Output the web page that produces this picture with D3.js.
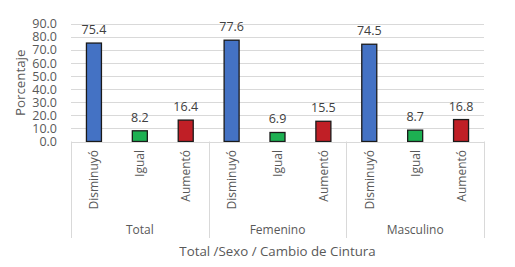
<!DOCTYPE html>
<html><head><meta charset="utf-8">
<script src="https://cdn.jsdelivr.net/npm/d3@7"></script>
<style>body{margin:0;background:#fff}svg{display:block}text{font-family:"Open Sans","Noto Sans",sans-serif}</style>
</head><body>
<script>
const groups = ["Total", "Femenino", "Masculino"];
const subcats = ["Disminuyó", "Igual", "Aumentó"];
const values = [
  [75.4, 8.2, 16.4],
  [77.6, 6.9, 15.5],
  [74.5, 8.7, 16.8]
];
const colors = ["#4472C4", "#1DB052", "#C01F26"];
const yTicks = [0, 10, 20, 30, 40, 50, 60, 70, 80, 90];

const W = 515, H = 267;
const mLeft = 71, mRight = 484, mTop = 24, mBottom = 141.5;
const svg = d3.select("body").append("svg").attr("width", W).attr("height", H);
const txt = "#595959", grid = "#D9D9D9";

const y = d3.scaleLinear().domain([0, 90]).range([mBottom, mTop]);
const xg = d3.scaleBand().domain(groups).range([mLeft, mRight]).padding(0);
const xs = d3.scaleBand().domain(subcats).range([0, xg.bandwidth()]).padding(0);
const barW = 15;

// gridlines
svg.append("g").selectAll("line").data(yTicks.filter(d => d > 0)).join("line")
  .attr("x1", mLeft).attr("x2", mRight)
  .attr("y1", d => Math.round(y(d)) + 0.5).attr("y2", d => Math.round(y(d)) + 0.5)
  .attr("stroke", grid).attr("stroke-width", 1);

// y tick labels
svg.append("g").selectAll("text").data(yTicks).join("text")
  .attr("x", 57).attr("y", d => y(d)).attr("dy", "0.35em")
  .attr("text-anchor", "end").attr("font-size", 12.5).attr("fill", txt)
  .text(d => d.toFixed(1));

// bars
const data = [];
groups.forEach((g, gi) => subcats.forEach((s, si) => data.push({g, s, si, v: values[gi][si]})));
svg.append("g").selectAll("rect").data(data).join("rect")
  .attr("x", d => xg(d.g) + xs(d.s) + xs.bandwidth() / 2 - barW / 2)
  .attr("width", barW)
  .attr("y", d => y(d.v))
  .attr("height", d => y(0) - y(d.v))
  .attr("fill", d => colors[d.si])
  .attr("stroke", "#1a1a1a").attr("stroke-width", 1.3);

// data labels
svg.append("g").selectAll("text").data(data).join("text")
  .attr("x", d => xg(d.g) + xs(d.s) + xs.bandwidth() / 2)
  .attr("y", d => y(d.v) - 9)
  .attr("text-anchor", "middle").attr("font-size", 12.5).attr("fill", "#404040")
  .text(d => d.v.toFixed(1));

// x axis line
svg.append("line").attr("x1", mLeft).attr("x2", mRight)
  .attr("y1", Math.round(mBottom) + 0.5).attr("y2", Math.round(mBottom) + 0.5)
  .attr("stroke", grid).attr("stroke-width", 1);

// group separators
const seps = groups.map(g => xg(g)).concat([mRight]);
svg.append("g").selectAll("line").data(seps).join("line")
  .attr("x1", d => Math.round(d) + 0.5).attr("x2", d => Math.round(d) + 0.5)
  .attr("y1", mBottom).attr("y2", 238)
  .attr("stroke", grid).attr("stroke-width", 1);

// subcategory labels (rotated)
svg.append("g").selectAll("text").data(data).join("text")
  .attr("transform", d => `translate(${xg(d.g) + xs(d.s) + xs.bandwidth() / 2 + 4.5},150) rotate(-90)`)
  .attr("text-anchor", "end").attr("font-size", 12).attr("fill", txt)
  .text(d => d.s);

// group labels
svg.append("g").selectAll("text").data(groups).join("text")
  .attr("x", d => xg(d) + xg.bandwidth() / 2).attr("y", 233.5)
  .attr("text-anchor", "middle").attr("font-size", 12).attr("fill", txt)
  .text(d => d);

// axis titles
svg.append("text").attr("x", (mLeft + mRight) / 2).attr("y", 256)
  .attr("text-anchor", "middle").attr("font-size", 13.3).attr("fill", txt)
  .text("Total /Sexo / Cambio de Cintura");
svg.append("text").attr("transform", `translate(25,${(mTop + mBottom) / 2}) rotate(-90)`)
  .attr("text-anchor", "middle").attr("font-size", 13.3).attr("fill", txt)
  .text("Porcentaje");
</script>
</body></html>
